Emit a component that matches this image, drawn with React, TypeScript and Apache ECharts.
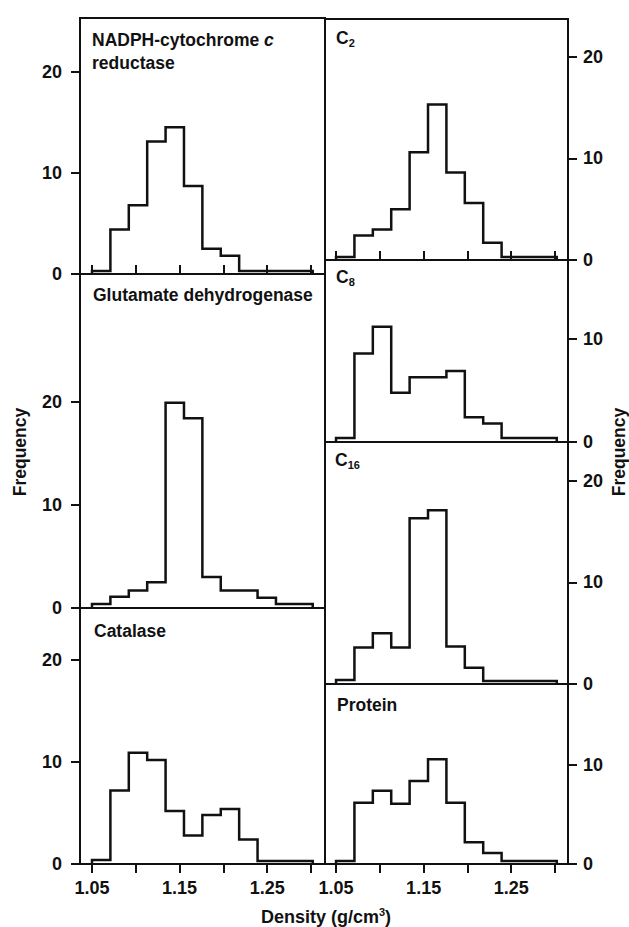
import React, { useEffect, useRef } from "react";
import * as echarts from "echarts";

// ---- data ----
const binEdges = [1.05, 1.071, 1.092, 1.113, 1.134, 1.155, 1.176, 1.197, 1.218, 1.239, 1.26, 1.281, 1.302];
const nadph = [0.3, 4.4, 6.8, 13.1, 14.5, 8.7, 2.5, 1.8, 0.3, 0.3, 0.3, 0.3];
const glutamate = [0.4, 1.1, 1.7, 2.5, 19.9, 18.4, 3.0, 1.7, 1.7, 1.0, 0.4, 0.4];
const catalase = [0.4, 7.2, 10.9, 10.2, 5.2, 2.8, 4.8, 5.4, 2.4, 0.3, 0.3, 0.3];
const c2 = [0.3, 2.4, 3.0, 5.0, 10.6, 15.3, 8.6, 5.6, 1.7, 0.3, 0.3, 0.3];
const c8 = [0.4, 8.6, 11.2, 4.8, 6.3, 6.3, 6.9, 2.4, 1.8, 0.4, 0.4, 0.4];
const c16 = [0.4, 3.6, 5.0, 3.6, 16.3, 17.1, 3.7, 1.6, 0.3, 0.3, 0.3, 0.3];
const protein = [0.3, 6.2, 7.4, 6.1, 8.4, 10.6, 6.2, 2.2, 1.1, 0.3, 0.3, 0.3];

const xTickValues = [1.05, 1.1, 1.15, 1.2, 1.25, 1.3];
const xLabelValues = [1.05, 1.15, 1.25];
const yTicks3 = [0, 10, 20];
const yTicks2 = [0, 10];

const FONT = '"Liberation Sans", Arial, Helvetica, sans-serif';
const INK = "#111";

const columns = [
  { left: 80, width: 245, min: 1.0363, max: 1.316, side: "left", labelMargin: 18 },
  { left: 325, width: 243, min: 1.0374, max: 1.3148, side: "right", labelMargin: 15 },
];

const panels = [
  { data: nadph, col: 0, top: 18, height: 256, yMax: 25.3, yTicks: yTicks3, xPos: "top" },
  { data: glutamate, col: 0, top: 274, height: 334, yMax: 32.4, yTicks: yTicks3, xPos: "none" },
  { data: catalase, col: 0, top: 608, height: 256, yMax: 25.1, yTicks: yTicks3, xPos: "bottom" },
  { data: c2, col: 1, top: 19, height: 241, yMax: 23.7, yTicks: yTicks3, xPos: "top" },
  { data: c8, col: 1, top: 260, height: 182, yMax: 17.7, yTicks: yTicks2, xPos: "none" },
  { data: c16, col: 1, top: 442, height: 242, yMax: 23.8, yTicks: yTicks3, xPos: "none" },
  { data: protein, col: 1, top: 684, height: 180, yMax: 18.2, yTicks: yTicks2, xPos: "bottom" },
];

function stepPoints(values: number[]) {
  const pts: number[][] = [[binEdges[0], 0]];
  values.forEach((v, i) => {
    pts.push([binEdges[i], v]);
    pts.push([binEdges[i + 1], v]);
  });
  pts.push([binEdges[values.length], 0]);
  return pts;
}

const titleFont = `bold 17.5px ${FONT}`;

function titleText(x: number, y: number, text: string, rich?: any) {
  return {
    type: "text",
    x,
    y,
    silent: true,
    style: {
      text,
      font: titleFont,
      fill: INK,
      textAlign: "left",
      textVerticalAlign: "top",
      lineHeight: 23,
      rich,
    },
  };
}

const subRich = {
  b: { fontSize: 17.5, fontWeight: "bold", fontFamily: FONT, fill: INK, lineHeight: 20 },
  s: { fontSize: 11, fontWeight: "bold", fontFamily: FONT, fill: INK, verticalAlign: "bottom", lineHeight: 16 },
};

export default function App() {
  const ref = useRef<HTMLDivElement>(null);
  useEffect(() => {
    if (!ref.current) return;
    const chart = echarts.init(ref.current, undefined, { renderer: "svg" });
    const option: any = {
      animation: false,
      backgroundColor: "#fff",
      grid: panels.map((p) => ({
        left: columns[p.col].left,
        width: columns[p.col].width,
        top: p.top,
        height: p.height,
        show: true,
        borderColor: INK,
        borderWidth: 2,
        backgroundColor: "transparent",
        containLabel: false,
      })),
      xAxis: panels.map((p, i) => ({
        type: "value",
        gridIndex: i,
        min: columns[p.col].min,
        max: columns[p.col].max,
        position: p.xPos === "top" ? "top" : "bottom",
        axisLine: { show: false },
        splitLine: { show: false },
        axisTick: {
          show: p.xPos !== "none",
          customValues: xTickValues,
          length: 9,
          lineStyle: { color: INK, width: 2 },
        },
        axisLabel: {
          show: p.xPos === "bottom",
          customValues: xLabelValues,
          formatter: (v: number) => v.toFixed(2),
          margin: 15,
          fontSize: 18,
          fontWeight: "bold",
          fontFamily: FONT,
          color: INK,
        },
      })),
      yAxis: panels.map((p, i) => ({
        type: "value",
        gridIndex: i,
        min: 0,
        max: p.yMax,
        position: columns[p.col].side,
        axisLine: { show: false },
        splitLine: { show: false },
        axisTick: {
          show: true,
          customValues: p.yTicks,
          length: 9,
          lineStyle: { color: INK, width: 2 },
        },
        axisLabel: {
          show: true,
          customValues: p.yTicks,
          margin: columns[p.col].labelMargin,
          fontSize: 18,
          fontWeight: "bold",
          fontFamily: FONT,
          color: INK,
        },
      })),
      series: panels.map((p, i) => ({
        type: "line",
        xAxisIndex: i,
        yAxisIndex: i,
        data: stepPoints(p.data),
        symbol: "none",
        silent: true,
        clip: false,
        lineStyle: { color: INK, width: 2.5, join: "miter" },
      })),
      graphic: [
        titleText(92, 28, "NADPH-cytochrome {i|c}\nreductase", {
          i: { fontStyle: "italic", fontWeight: "bold", fontSize: 17.5, fontFamily: FONT, fill: INK, lineHeight: 23 },
        }),
        titleText(93, 283, "Glutamate dehydrogenase"),
        titleText(94, 619, "Catalase"),
        titleText(336, 28, "{b|C}{s|2}", subRich),
        titleText(336, 267, "{b|C}{s|8}", subRich),
        titleText(335, 450, "{b|C}{s|16}", subRich),
        titleText(337, 693, "Protein"),
        {
          type: "text",
          x: 20,
          y: 452,
          rotation: Math.PI / 2,
          silent: true,
          style: { text: "Frequency", font: titleFont, fill: INK, textAlign: "center", textVerticalAlign: "middle" },
        },
        {
          type: "text",
          x: 619,
          y: 452,
          rotation: Math.PI / 2,
          silent: true,
          style: { text: "Frequency", font: titleFont, fill: INK, textAlign: "center", textVerticalAlign: "middle" },
        },
        {
          type: "text",
          x: 326,
          y: 917,
          silent: true,
          style: {
            text: "{b|Density (g/cm}{sup|3}{b|)}",
            font: `bold 18px ${FONT}`,
            fill: INK,
            textAlign: "center",
            textVerticalAlign: "middle",
            rich: {
              b: { fontSize: 18, fontWeight: "bold", fontFamily: FONT, fill: INK, lineHeight: 22 },
              sup: { fontSize: 11, fontWeight: "bold", fontFamily: FONT, fill: INK, verticalAlign: "top", lineHeight: 14 },
            },
          },
        },
      ],
    };
    chart.setOption(option);
    return () => chart.dispose();
  }, []);
  return (
    <div
      ref={ref}
      style={{ position: "fixed", left: 0, top: 0, width: 629, height: 927, background: "#fff" }}
    />
  );
}
